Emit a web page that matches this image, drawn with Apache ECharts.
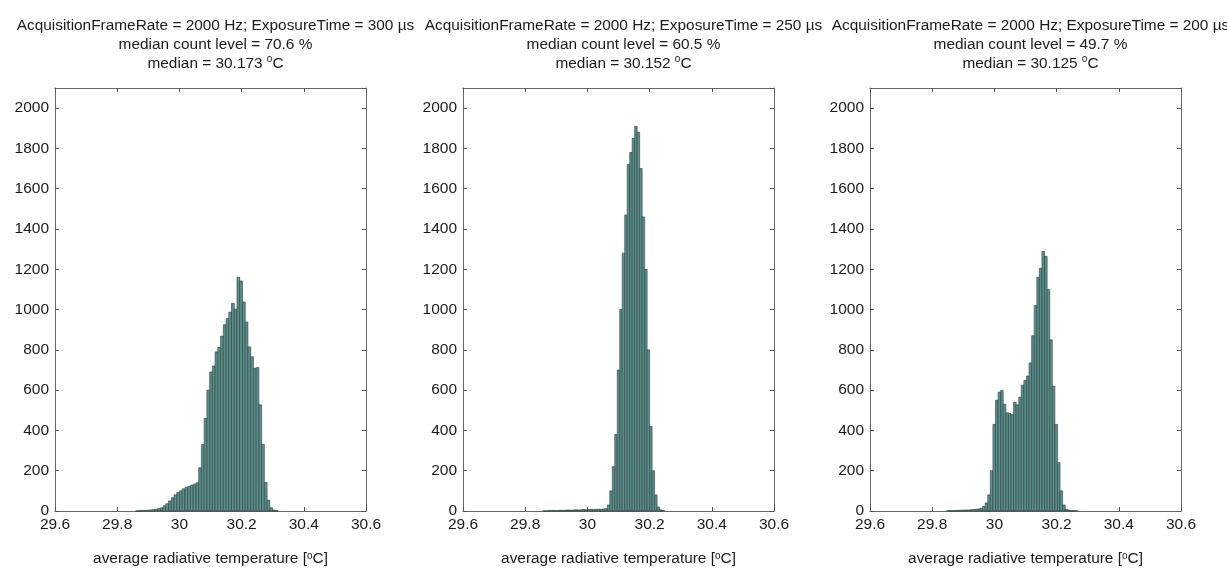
<!DOCTYPE html>
<html>
<head>
<meta charset="utf-8">
<script src="https://cdn.jsdelivr.net/npm/echarts@6/dist/echarts.min.js"></script>
<style>
  html, body { margin: 0; padding: 0; background: #fff; }
  #main { width: 1227px; height: 571px; }
</style>
</head>
<body>
<div id="main"></div>
<script>
// histogram bins: first bin centre, bin width, counts per bin
var exposureTimes = [300, 250, 200];
var countLevels = ["70.6", "60.5", "49.7"];
var medians = ["30.173", "30.152", "30.125"];

var binStart = [29.864, 29.86, 29.85];
var binWidth = [0.0088, 0.008, 0.0083];

var counts300 = [1, 2, 2, 3, 4, 5, 7, 9, 12, 16, 26, 36, 50, 66, 80, 92, 100, 110, 118, 122,
  128, 133, 140, 215, 330, 460, 600, 690, 720, 790, 812, 868, 925, 955, 987, 1031, 1002, 1160,
  1142, 1038, 938, 815, 766, 708, 712, 527, 331, 142, 54, 16, 5, 2];
var counts250 = [1, 1, 2, 2, 3, 2, 3, 4, 3, 4, 5, 4, 5, 6, 5, 6, 7, 6, 7, 8, 7, 8, 9, 8, 10,
  12, 30, 100, 220, 380, 700, 1000, 1280, 1470, 1720, 1780, 1850, 1910, 1880, 1700, 1460, 1200,
  800, 420, 200, 80, 20, 6, 2];
var counts200 = [1, 2, 2, 3, 3, 4, 4, 5, 5, 6, 7, 8, 10, 14, 22, 40, 80, 200, 430, 550, 590, 598,
  530, 488, 484, 478, 540, 527, 565, 625, 648, 670, 735, 870, 1020, 1160, 1205, 1289, 1264, 1100,
  850, 620, 430, 240, 100, 30, 8, 4, 3, 2, 1];

var allCounts = [counts300, counts250, counts200];

var xTickMin = 29.6, xTickMax = 30.6, xTickStep = 0.2;
var yMax = 2100, yStep = 200;

var gridLeft = [55, 463, 870];
var gridWidth = 311;

var myChart = echarts.init(document.getElementById("main"));

var font = "'Liberation Sans', Arial, sans-serif";
var supStyle = { sup: { fontSize: 10, verticalAlign: "top", lineHeight: 12, fontFamily: font, color: "#1a1a1a" } };

function renderBar(params, api) {
  var x = api.value(0), y = api.value(1), w = api.value(2);
  var p0 = api.coord([x - w / 2, y]);
  var p1 = api.coord([x + w / 2, 0]);
  return {
    type: "rect",
    shape: { x: p0[0], y: p0[1], width: p1[0] - p0[0], height: p1[1] - p0[1] },
    style: { fill: "#5b918c", stroke: "#2a3b3a", lineWidth: 0.6 }
  };
}

var option = {
  backgroundColor: "#fff",
  animation: false,
  title: [],
  grid: [],
  xAxis: [],
  yAxis: [],
  series: []
};

for (var i = 0; i < 3; i++) {
  option.grid.push({
    left: gridLeft[i], width: gridWidth, top: 88, bottom: 57, containLabel: false
  });
  option.title.push({
    left: gridLeft[i] + gridWidth / 2,
    top: 11,
    textAlign: "center",
    text: "AcquisitionFrameRate = 2000 Hz; ExposureTime = " + exposureTimes[i] + " µs\n" +
      "median count level = " + countLevels[i] + " %\n" +
      "median = " + medians[i] + " {sup|o}C",
    textStyle: {
      fontFamily: font, fontSize: 15.4, fontWeight: "normal", color: "#1a1a1a",
      lineHeight: 19, rich: supStyle
    }
  });

  var axisLine = { show: true, onZero: false, lineStyle: { color: "#666", width: 1 } };
  var tick = { show: true, inside: true, length: 4, lineStyle: { color: "#555" } };

  option.xAxis.push({
    gridIndex: i, type: "value", min: xTickMin, max: xTickMax, interval: xTickStep,
    position: "bottom",
    axisLine: axisLine, axisTick: tick, splitLine: { show: false },
    axisLabel: { fontFamily: font, fontSize: 15.5, color: "#1a1a1a", margin: 6 },
    name: "average radiative temperature [{sup|o}C]",
    nameLocation: "middle", nameGap: 40,
    nameTextStyle: { fontFamily: font, fontSize: 15.4, color: "#1a1a1a", rich: supStyle }
  });
  option.xAxis.push({
    gridIndex: i, type: "value", min: xTickMin, max: xTickMax, interval: xTickStep,
    position: "top",
    axisLine: axisLine, axisTick: tick, splitLine: { show: false },
    axisLabel: { show: false }
  });
  option.yAxis.push({
    gridIndex: i, type: "value", min: 0, max: yMax, interval: yStep,
    position: "left",
    axisLine: axisLine, axisTick: tick, splitLine: { show: false },
    axisLabel: {
      fontFamily: font, fontSize: 15.5, color: "#1a1a1a", margin: 6, showMaxLabel: false,
      formatter: function (v) { return String(v); }
    }
  });
  option.yAxis.push({
    gridIndex: i, type: "value", min: 0, max: yMax, interval: yStep,
    position: "right",
    axisLine: axisLine, axisTick: tick, splitLine: { show: false },
    axisLabel: { show: false }
  });

  var data = [];
  var c = allCounts[i];
  for (var k = 0; k < c.length; k++) {
    data.push([binStart[i] + k * binWidth[i], c[k], binWidth[i]]);
  }
  option.series.push({
    type: "custom",
    xAxisIndex: 2 * i,
    yAxisIndex: 2 * i,
    renderItem: renderBar,
    encode: { x: 0, y: 1 },
    data: data,
    silent: true
  });
}

myChart.setOption(option);
window.addEventListener("resize", function () { myChart.resize(); });
</script>
</body>
</html>
